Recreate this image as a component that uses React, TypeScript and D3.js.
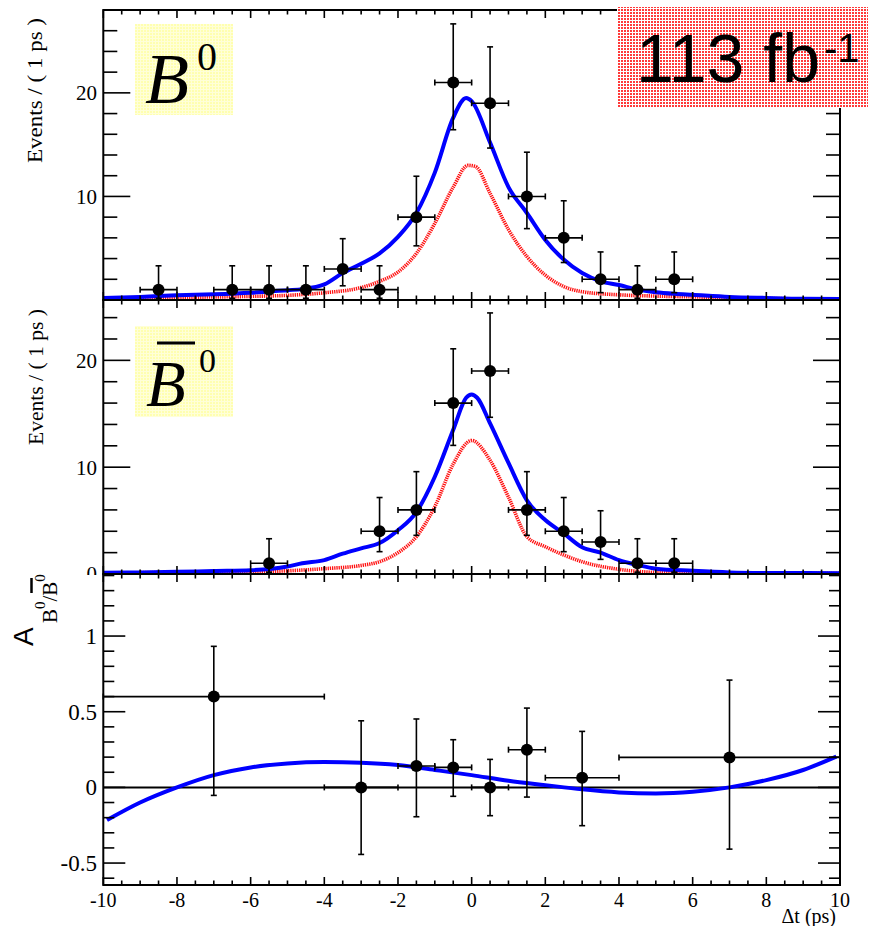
import React from "react";
import * as d3 from "d3";

// ---------- data ----------
const binHalfWidth = 0.5;

const b0Dt = [-8.5, -6.5, -5.5, -4.5, -3.5, -2.5, -1.5, -0.5, 0.5, 1.5, 2.5, 3.5, 4.5, 5.5];
const b0Events = [1, 1, 1, 1, 3, 1, 8, 21, 19, 10, 6, 2, 1, 2];
const b0ErrLo = [0.83, 0.83, 0.83, 0.83, 1.63, 0.83, 2.77, 4.56, 4.33, 3.11, 2.38, 1.29, 0.83, 1.29];
const b0ErrHi = [2.3, 2.3, 2.3, 2.3, 2.92, 2.3, 3.95, 5.66, 5.44, 4.27, 3.58, 2.64, 2.3, 2.64];

const b0barDt = [-5.5, -2.5, -1.5, -0.5, 0.5, 1.5, 2.5, 3.5, 4.5, 5.5];
const b0barEvents = [1, 4, 6, 16, 19, 6, 4, 3, 1, 1];
const b0barErrLo = [0.83, 1.91, 2.38, 3.96, 4.33, 2.38, 1.91, 1.63, 0.83, 0.83];
const b0barErrHi = [2.3, 3.16, 3.58, 5.08, 5.44, 3.58, 3.16, 2.92, 2.3, 2.3];

const asymDt = [-7, -3, -1.5, -0.5, 0.5, 1.5, 3, 7];
const asymBinLo = [-10, -4, -2, -1, 0, 1, 2, 4];
const asymBinHi = [-4, -2, -1, 0, 1, 2, 4, 10];
const asymVal = [0.6, 0, 0.141, 0.132, 0, 0.249, 0.064, 0.198];
const asymErrLo = [0.653, 0.443, 0.335, 0.191, 0.187, 0.313, 0.317, 0.606];
const asymErrHi = [0.332, 0.44, 0.311, 0.183, 0.185, 0.275, 0.306, 0.511];

// fit curves: [dt, value]
const b0Total: [number, number][] = [
  [-10, 0.2], [-9, 0.3], [-8, 0.45], [-7, 0.55], [-6, 0.7], [-5, 0.95], [-4.6, 1.05], [-4, 1.5],
  [-3.5, 2.6], [-3, 3.5], [-2.5, 4.5], [-2, 6.1], [-1.5, 8.4], [-1, 12.3], [-0.5, 17.6], [-0.15, 19.5],
  [0, 19.2], [0.5, 15.2], [1, 10.9], [1.5, 8.4], [2, 5.8], [2.5, 3.9], [3, 2.6], [3.5, 1.8], [4, 1.45],
  [4.5, 1.0], [5, 0.75], [5.5, 0.6], [6, 0.5], [7, 0.3], [8, 0.2], [9, 0.12], [10, 0.1],
];
const b0Signal: [number, number][] = [
  [-10, 0.15], [-8, 0.25], [-6, 0.35], [-5, 0.45], [-4, 0.7], [-3, 1.2], [-2.5, 1.8], [-2, 2.7],
  [-1.5, 4.5], [-1, 7.4], [-0.5, 10.9], [-0.1, 13.0], [0.1, 12.9], [0.5, 10.3], [1, 6.8], [1.5, 4.2],
  [2, 2.4], [2.5, 1.3], [3, 0.8], [4, 0.5], [5, 0.38], [6, 0.3], [7, 0.22], [8, 0.15], [10, 0.1],
];
const b0barTotal: [number, number][] = [
  [-10, 0.12], [-9, 0.15], [-8, 0.2], [-7, 0.28], [-6, 0.35], [-5, 0.7], [-4.6, 1.0], [-4, 1.3],
  [-3.5, 1.9], [-3, 2.4], [-2.5, 2.9], [-2, 4.1], [-1.5, 5.8], [-1, 9.1], [-0.5, 13.5], [-0.15, 16.5],
  [0, 16.8], [0.15, 16.5], [0.5, 14.1], [1, 10.4], [1.5, 6.9], [2, 5.05], [2.5, 3.8], [3, 2.5], [3.5, 2.0], [4, 1.3],
  [4.5, 0.85], [5, 0.5], [6, 0.3], [7, 0.15], [8, 0.1], [10, 0.08],
];
const b0barSignal: [number, number][] = [
  [-10, 0.1], [-8, 0.15], [-6, 0.2], [-5, 0.3], [-4.6, 0.37], [-4, 0.5], [-3, 0.8], [-2.5, 1.15],
  [-2, 2.0], [-1.5, 3.5], [-1, 6.3], [-0.5, 10.3], [0, 12.5], [0.5, 10.65], [1, 7.2], [1.5, 3.5],
  [2, 2.55], [2.5, 1.78], [3, 1.15], [4, 0.44], [5, 0.15], [6, 0.1], [8, 0.08], [10, 0.06],
];
const asymCurve: [number, number][] = [
  [-9.9, -0.216], [-9, -0.1], [-8, 0], [-7, 0.081], [-6, 0.132], [-5, 0.158], [-4, 0.167], [-3, 0.163],
  [-2, 0.148], [-1, 0.115], [0, 0.081], [1, 0.044], [2, 0.015], [3, -0.013], [4, -0.033], [5, -0.04],
  [6, -0.029], [7, 0], [8, 0.048], [9, 0.115], [9.9, 0.203],
];

const xTickLabels = ["-10", "-8", "-6", "-4", "-2", "0", "2", "4", "6", "8", "10"];
const y1TickLabels = [10, 20];
const y2TickLabels = [0, 10, 20];
const y3TickLabels = [-0.5, 0, 0.5, 1];

// ---------- layout ----------
const W = 870;
const H = 926;
const X0 = 103.3;
const X1 = 840;
const serif = "Liberation Serif, Times New Roman, serif";
const sans = "Liberation Sans, Arial, sans-serif";

const x = d3.scaleLinear().domain([-10, 10]).range([X0, X1]);
const y1 = d3.scaleLinear().domain([0, 28]).range([300, 10]);
const y2 = d3.scaleLinear().domain([0, 25.65]).range([574, 300]);
const y3 = d3.scaleLinear().domain([-0.645, 1.41]).range([885, 574]);

type Scale = d3.ScaleLinear<number, number>;

function Frame({ y, minorStep, majorStep, majLen, minLen }: { y: Scale; minorStep: number; majorStep: number; majLen: number; minLen: number }) {
  const [d0, d1] = y.domain();
  const top = y.range()[1];
  const bot = y.range()[0];
  const start = Math.ceil(d0 / minorStep - 1e-6) * minorStep;
  const yv = d3.range(start, d1 + 1e-6, minorStep);
  const xv = d3.range(-10, 10.0001, 0.5);
  const isMaj = (v: number, s: number) => Math.abs(v / s - Math.round(v / s)) < 1e-6;
  const els: React.ReactNode[] = [];
  yv.forEach((v, i) => {
    const len = isMaj(v, majorStep) ? majLen : minLen;
    const py = y(v);
    els.push(<line key={"l" + i} x1={X0} x2={X0 + len} y1={py} y2={py} />);
    els.push(<line key={"r" + i} x1={X1} x2={X1 - len} y1={py} y2={py} />);
  });
  xv.forEach((v, i) => {
    const len = isMaj(v, 2) ? 8 : 4.5;
    const px = x(v);
    els.push(<line key={"t" + i} x1={px} x2={px} y1={top} y2={top + len} />);
    els.push(<line key={"b" + i} x1={px} x2={px} y1={bot} y2={bot - len} />);
  });
  return (
    <g stroke="#000" strokeWidth={1.6} fill="none">
      {els}
      <rect x={X0} y={top} width={X1 - X0} height={bot - top} strokeWidth={2} />
    </g>
  );
}

function Points({ y, xs, vals, lo, hi, xlo, xhi }: { y: Scale; xs: number[]; vals: number[]; lo: number[]; hi: number[]; xlo: number[]; xhi: number[] }) {
  return (
    <g>
      {xs.map((xv, i) => {
        const px = x(xv);
        const py = y(vals[i]);
        const yt = y(vals[i] + hi[i]);
        const yb = y(vals[i] - lo[i]);
        const xl = x(xlo[i]);
        const xr = x(xhi[i]);
        return (
          <g key={i} stroke="#000" strokeWidth={1.6}>
            <line x1={px} x2={px} y1={yt} y2={yb} />
            <line x1={px - 3} x2={px + 3} y1={yt} y2={yt} />
            <line x1={px - 3} x2={px + 3} y1={yb} y2={yb} />
            <line x1={xl} x2={xr} y1={py} y2={py} />
            <line x1={xl} x2={xl} y1={py - 3} y2={py + 3} />
            <line x1={xr} x2={xr} y1={py - 3} y2={py + 3} />
            <circle cx={px} cy={py} r={6} fill="#000" stroke="none" />
          </g>
        );
      })}
    </g>
  );
}

function Curve({ y, data, color, dashed, clip }: { y: Scale; data: [number, number][]; color: string; dashed?: boolean; clip: string }) {
  const line = d3
    .line<[number, number]>()
    .x((d) => x(d[0]))
    .y((d) => y(d[1]))
    .curve(d3.curveMonotoneX);
  return (
    <path
      d={line(data) || ""}
      fill="none"
      stroke={color}
      strokeWidth={dashed ? 3.6 : 4}
      strokeDasharray={dashed ? "1.3 0.9" : undefined}
      strokeLinejoin="round"
      clipPath={`url(#${clip})`}
    />
  );
}

function YLabels({ y, vals, size, fmt }: { y: Scale; vals: number[]; size: number; fmt: (v: number) => string }) {
  return (
    <g fontFamily={serif} fontSize={size} textAnchor="end" fill="#000">
      {vals.map((v, i) => (
        <text key={i} x={97} y={y(v)} dy="0.35em">
          {fmt(v)}
        </text>
      ))}
    </g>
  );
}

export default function App() {
  const xsTicks = d3.range(-10, 10.0001, 2);
  return (
    <svg width={W} height={H} style={{ display: "block", position: "absolute", left: 0, top: 0, background: "#fff" }}>
      <defs>
        <pattern id="redDots" width={3} height={3} patternUnits="userSpaceOnUse">
          <rect width={3} height={3} fill="#fff" />
          <rect width={2} height={2} fill="#ff3a3a" />
        </pattern>
        <pattern id="yelDots" width={3} height={3} patternUnits="userSpaceOnUse">
          <rect width={3} height={3} fill="#ffffd8" />
          <rect width={2} height={2} fill="#ffffb0" />
        </pattern>
        <clipPath id="c1"><rect x={X0} y={10} width={X1 - X0} height={290} /></clipPath>
        <clipPath id="c2"><rect x={X0} y={300} width={X1 - X0} height={274} /></clipPath>
        <clipPath id="c3"><rect x={X0} y={574} width={X1 - X0} height={311} /></clipPath>
        <clipPath id="above3"><rect x={0} y={0} width={W} height={575} /></clipPath>
        <clipPath id="below2"><rect x={0} y={573} width={W} height={H - 573} /></clipPath>
      </defs>
      <rect width={W} height={H} fill="#fff" />

      {/* ---------- panel 1: B0 ---------- */}
      <Curve y={y1} data={b0Signal} color="#ff1010" dashed clip="c1" />
      <Curve y={y1} data={b0Total} color="#0000ff" clip="c1" />
      <Points y={y1} xs={b0Dt} vals={b0Events} lo={b0ErrLo} hi={b0ErrHi}
        xlo={b0Dt.map((d) => d - binHalfWidth)} xhi={b0Dt.map((d) => d + binHalfWidth)} />
      <Frame y={y1} minorStep={2} majorStep={10} majLen={27} minLen={14} />
      <YLabels y={y1} vals={y1TickLabels} size={21} fmt={(v) => String(v)} />
      <text transform="translate(42,90.5) rotate(-90)" fontFamily={serif} fontSize={21} textAnchor="middle"
        textLength={145} lengthAdjust="spacingAndGlyphs">Events / ( 1 ps )</text>
      <rect x={135} y={24} width={98} height={91} fill="url(#yelDots)" />
      <text x={145} y={103} fontFamily={serif} fontStyle="italic" fontSize={72}>B</text>
      <text x={197} y={70} fontFamily={serif} fontSize={40}>0</text>

      {/* ---------- panel 2: B0bar ---------- */}
      <Curve y={y2} data={b0barSignal} color="#ff1010" dashed clip="c2" />
      <Curve y={y2} data={b0barTotal} color="#0000ff" clip="c2" />
      <Points y={y2} xs={b0barDt} vals={b0barEvents} lo={b0barErrLo} hi={b0barErrHi}
        xlo={b0barDt.map((d) => d - binHalfWidth)} xhi={b0barDt.map((d) => d + binHalfWidth)} />
      <Frame y={y2} minorStep={2} majorStep={10} majLen={27} minLen={14} />
      <g clipPath="url(#above3)">
        <YLabels y={y2} vals={y2TickLabels} size={21} fmt={(v) => String(v)} />
      </g>
      <text transform="translate(43,377) rotate(-90)" fontFamily={serif} fontSize={20} textAnchor="middle"
        textLength={136} lengthAdjust="spacingAndGlyphs">Events / ( 1 ps )</text>
      <rect x={135} y={326} width={98} height={91} fill="url(#yelDots)" />
      <text x={146} y={406} fontFamily={serif} fontStyle="italic" fontSize={65}>B</text>
      <line x1={157} x2={195} y1={343} y2={343} stroke="#000" strokeWidth={3} />
      <text x={199} y={372} fontFamily={serif} fontSize={34}>0</text>

      {/* ---------- panel 3: asymmetry ---------- */}
      <line x1={X0} x2={X1} y1={y3(0)} y2={y3(0)} stroke="#000" strokeWidth={2} />
      <Curve y={y3} data={asymCurve} color="#0000ff" clip="c3" />
      <Points y={y3} xs={asymDt} vals={asymVal} lo={asymErrLo} hi={asymErrHi} xlo={asymBinLo} xhi={asymBinHi} />
      <Frame y={y3} minorStep={0.1} majorStep={0.5} majLen={22} minLen={11} />
      <YLabels y={y3} vals={y3TickLabels} size={23} fmt={(v) => String(v)} />
      <g fontFamily={serif} fontSize={20} textAnchor="middle">
        {xsTicks.map((v, i) => (
          <text key={i} x={x(v)} y={907}>{xTickLabels[i]}</text>
        ))}
      </g>
      <text x={836} y={923} fontFamily={serif} fontSize={20} textAnchor="end">Δt (ps)</text>
      <text transform="translate(33,646) rotate(-90)" fontFamily={sans} fontSize={28}>A</text>
      <g clipPath="url(#below2)">
        <text transform="translate(57,623) rotate(-90)" fontFamily={serif} fontSize={21}>
          <tspan>B</tspan>
          <tspan dy={-12} fontSize={15}>0</tspan>
          <tspan dy={12}>/B</tspan>
          <tspan dy={-12} fontSize={15}>0</tspan>
        </text>
        <line x1={31.5} x2={31.5} y1={593} y2={578} stroke="#000" strokeWidth={2.5} />
      </g>

      {/* ---------- luminosity box ---------- */}
      <rect x={617} y={7} width={251} height={101} fill="url(#redDots)" />
      <text x={636} y={82} fontFamily={sans} fontSize={68}>113 fb</text>
      <text x={824} y={62} fontFamily={sans} fontSize={40}>-1</text>
    </svg>
  );
}
